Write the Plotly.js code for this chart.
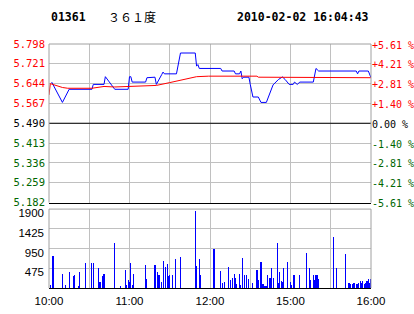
<!DOCTYPE html>
<html><head><meta charset="utf-8">
<script src="https://cdn.plot.ly/plotly-3.0.1.min.js"></script>
<style>html,body{margin:0;padding:0;background:#fff;}#chart{width:414px;height:314px;}</style>
</head><body><div id="chart"></div>
<script>
// ---- data ----
const stockCode = '01361';
const stockName = '３６１度';
const stamp = '2010-02-02 16:04:43';
const prevClose = 5.490;

const priceTimes = ['10:02','10:10','10:15','10:32','10:33','10:41','10:42','10:49','10:59','11:00','11:01','11:02','11:12','11:13','11:19','11:20','11:24','11:25','11:26','11:35','11:38','11:49','11:50','11:51','11:52','12:08','12:09','12:18','12:19','12:22','12:23','12:24','12:25','12:29','14:30','14:32','14:36','14:38','14:42','14:47','14:51','14:54','14:56','14:59','15:02','15:03','15:05','15:07','15:17','15:19','15:21','15:49','15:50','15:51','15:58','16:00'];
const prices = [5.650,5.571,5.622,5.622,5.641,5.641,5.671,5.622,5.622,5.671,5.671,5.650,5.650,5.667,5.669,5.641,5.679,5.689,5.682,5.682,5.763,5.763,5.712,5.718,5.703,5.703,5.693,5.693,5.682,5.682,5.693,5.663,5.669,5.669,5.641,5.592,5.592,5.571,5.571,5.639,5.660,5.670,5.660,5.641,5.641,5.650,5.641,5.650,5.650,5.703,5.693,5.693,5.682,5.693,5.693,5.667];

const avgTimes = ['10:00','10:01','10:10','10:14','10:32','10:41','10:49','10:59','11:20','11:30','11:38','11:45','11:50','11:59','14:35','14:36','15:09','15:10','16:00'];
const avgPrices = [5.600,5.644,5.629,5.626,5.626,5.633,5.631,5.632,5.637,5.648,5.657,5.667,5.671,5.673,5.673,5.669,5.669,5.667,5.667];

const volTimes = ['10:01','10:03','10:10','10:12','10:15','10:18','10:19','10:22','10:23','10:27','10:32','10:33','10:37','10:38','10:40','10:41','10:49','10:53','10:57','10:58','10:59','11:00','11:01','11:02','11:03','11:12','11:13','11:19','11:21','11:22','11:24','11:25','11:27','11:28','11:29','11:30','11:32','11:34','11:38','11:49','11:50','11:52','11:53','12:03','12:08','12:09','12:11','12:14','12:15','12:17','12:18','12:19','12:20','12:22','12:23','12:24','12:26','12:27','12:29','14:32','14:35','14:36','14:38','14:39','14:40','14:41','14:42','14:43','14:44','14:45','14:46','14:47','14:50','14:51','14:52','14:53','14:54','14:55','14:58','15:00','15:01','15:02','15:03','15:07','15:12','15:14','15:15','15:17','15:18','15:19','15:20','15:21','15:32','15:34','15:41','15:43','15:44','15:45','15:46','15:47','15:48','15:49','15:50','15:51','15:52','15:53','15:54','15:55','15:56','15:57','15:58','15:59','16:00'];
const volumes = [80,777,344,80,377,296,320,55,377,609,609,609,488,136,280,344,1074,55,425,80,200,136,601,80,344,561,224,561,393,320,152,657,513,569,296,320,320,705,753,1859,537,705,320,946,417,128,152,513,200,248,344,248,104,327,63,712,320,320,224,128,423,184,616,87,104,55,55,304,232,232,472,232,1072,128,376,160,136,481,616,136,72,304,320,304,833,472,183,304,200,320,320,228,1234,472,808,128,128,104,104,128,128,104,104,128,176,128,176,104,128,176,224,128,224];

const priceTicks = [5.798,5.721,5.644,5.567,5.490,5.413,5.336,5.259,5.182];
const pctTicks = [5.61,4.21,2.81,1.40,0,-1.40,-2.81,-4.21,-5.61];
const pctLabels = ['+5.61 %','+4.21 %','+2.81 %','+1.40 %','0.00 %','-1.40 %','-2.81 %','-4.21 %','-5.61 %'];
const volTicks = [1900,1425,950,475];
const timeGrid = ['10:00','10:30','11:00','11:30','12:00','12:30','15:00','15:30','16:00'];
const timeLabels = ['10:00','','11:00','','12:00','','15:00','','16:00'];

// ---- helpers ----
function idx(t){const p=t.split(':').map(Number);const m=p[0]*60+p[1];return m<=750?m-600:m-870+150;}
const RED='#ff0000', GREEN='#006600', BLACK='#000000', GRID='#c0c0c0', BORDER='#a0a0a0';
function col(v){return v>prevClose+1e-9?RED:(v<prevClose-1e-9?GREEN:BLACK);}
function colP(v){return v>1e-9?RED:(v<-1e-9?GREEN:BLACK);}
const pct = p => (p/prevClose-1)*100;

const mono='DejaVu Sans Mono, monospace';
const sans='Liberation Sans, Arial, sans-serif';

const traces=[
 {type:'bar',x:volTimes.map(idx),y:volumes,xaxis:'x2',yaxis:'y3',width:0.8,
  marker:{color:'#0000ff',line:{width:0}},hoverinfo:'skip'},
 // percent-scale companion (transparent) so the right axis is drawn
 {type:'scatter',mode:'lines',x:priceTimes.map(idx),y:prices.map(pct),xaxis:'x',yaxis:'y2',
  line:{color:'rgba(0,0,0,0)',width:1},hoverinfo:'skip'},
 {type:'scatter',mode:'lines',x:priceTimes.map(idx),y:prices,xaxis:'x',yaxis:'y',
  line:{color:'#0000ff',width:1},hoverinfo:'skip'},
 {type:'scatter',mode:'lines',x:avgTimes.map(idx),y:avgPrices,xaxis:'x',yaxis:'y',
  line:{color:'#ff0000',width:1},hoverinfo:'skip'}
];

const pTop=0.3504, vTop=0.3234;
const layout={
 width:414,height:314,margin:{l:49,r:43,t:44,b:26},
 paper_bgcolor:'#fff',plot_bgcolor:'#fff',showlegend:false,bargap:0,
 xaxis:{domain:[0,1],anchor:'y',range:[0,240],tickvals:timeGrid.map(idx),showticklabels:false,
   showgrid:true,gridcolor:GRID,gridwidth:1,zeroline:false,showline:true,linecolor:BLACK,linewidth:1,ticks:''},
 xaxis2:{domain:[0,1],anchor:'y3',range:[0,240],tickvals:timeGrid.map(idx),ticktext:timeLabels,
   showgrid:true,gridcolor:GRID,gridwidth:1,zeroline:false,showline:true,linecolor:BLACK,linewidth:1,ticks:'',
   tickfont:{family:sans,size:11.5,color:BLACK},ticklabelstandoff:2},
 yaxis:{domain:[pTop,1],range:[5.182,5.798],tickvals:priceTicks,
   ticktext:priceTicks.map(v=>'<span style="fill:'+col(v)+'">'+v.toFixed(3)+'</span>'),
   showgrid:true,gridcolor:GRID,gridwidth:1,zeroline:false,showline:false,ticks:'',
   tickfont:{family:mono,size:10.5,color:BLACK},ticklabelstandoff:3,ticklabelshift:0},
 yaxis2:{overlaying:'y',side:'right',anchor:'x',range:[-5.61,5.61],tickvals:pctTicks,
   ticktext:pctTicks.map((v,i)=>'<span style="fill:'+colP(v)+'">'+pctLabels[i]+'</span>'),
   showgrid:false,zeroline:false,showline:false,ticks:'',
   tickfont:{family:mono,size:10,color:BLACK},ticklabelstandoff:0,ticklabelshift:1},
 yaxis3:{domain:[0,vTop],anchor:'x2',range:[0,1900],tickvals:volTicks,
   showgrid:true,gridcolor:GRID,gridwidth:1,zeroline:false,showline:false,ticks:'',
   tickfont:{family:sans,size:11.5,color:BLACK},ticklabelstandoff:4,ticklabelshift:4},
 shapes:[
  // previous-close reference line
  {type:'line',xref:'paper',yref:'y',x0:0,x1:1,y0:prevClose,y1:prevClose,line:{color:BLACK,width:1}},
  // panel frames (top, left, right)
  {type:'line',xref:'paper',yref:'paper',x0:0,x1:1,y0:1,y1:1,line:{color:BORDER,width:1}},
  {type:'line',xref:'paper',yref:'paper',x0:0,x1:0,y0:pTop,y1:1,line:{color:BORDER,width:1}},
  {type:'line',xref:'paper',yref:'paper',x0:1,x1:1,y0:pTop,y1:1,line:{color:BORDER,width:1}},
  {type:'line',xref:'paper',yref:'paper',x0:0,x1:1,y0:vTop,y1:vTop,line:{color:BORDER,width:1}},
  {type:'line',xref:'paper',yref:'paper',x0:0,x1:0,y0:0,y1:vTop,line:{color:BORDER,width:1}},
  {type:'line',xref:'paper',yref:'paper',x0:1,x1:1,y0:0,y1:vTop,line:{color:BORDER,width:1}}
 ],
 annotations:[
  {text:'<b>'+stockCode+'</b>',xref:'paper',yref:'paper',x:0.0,y:1.112,xanchor:'left',yanchor:'middle',showarrow:false,
   font:{family:mono,size:11.5,color:BLACK}},
  {text:stockName,xref:'paper',yref:'paper',x:0.176,y:1.112,xanchor:'left',yanchor:'middle',showarrow:false,
   font:{family:'Noto Sans CJK SC, sans-serif',size:12,color:BLACK}},
  {text:'<b>'+stamp+'</b>',xref:'paper',yref:'paper',x:1.0,y:1.112,xanchor:'right',yanchor:'middle',showarrow:false,
   font:{family:mono,size:11.5,color:BLACK}}
 ]
};
Plotly.newPlot('chart',traces,layout,{staticPlot:true,displayModeBar:false});
</script></body></html>
